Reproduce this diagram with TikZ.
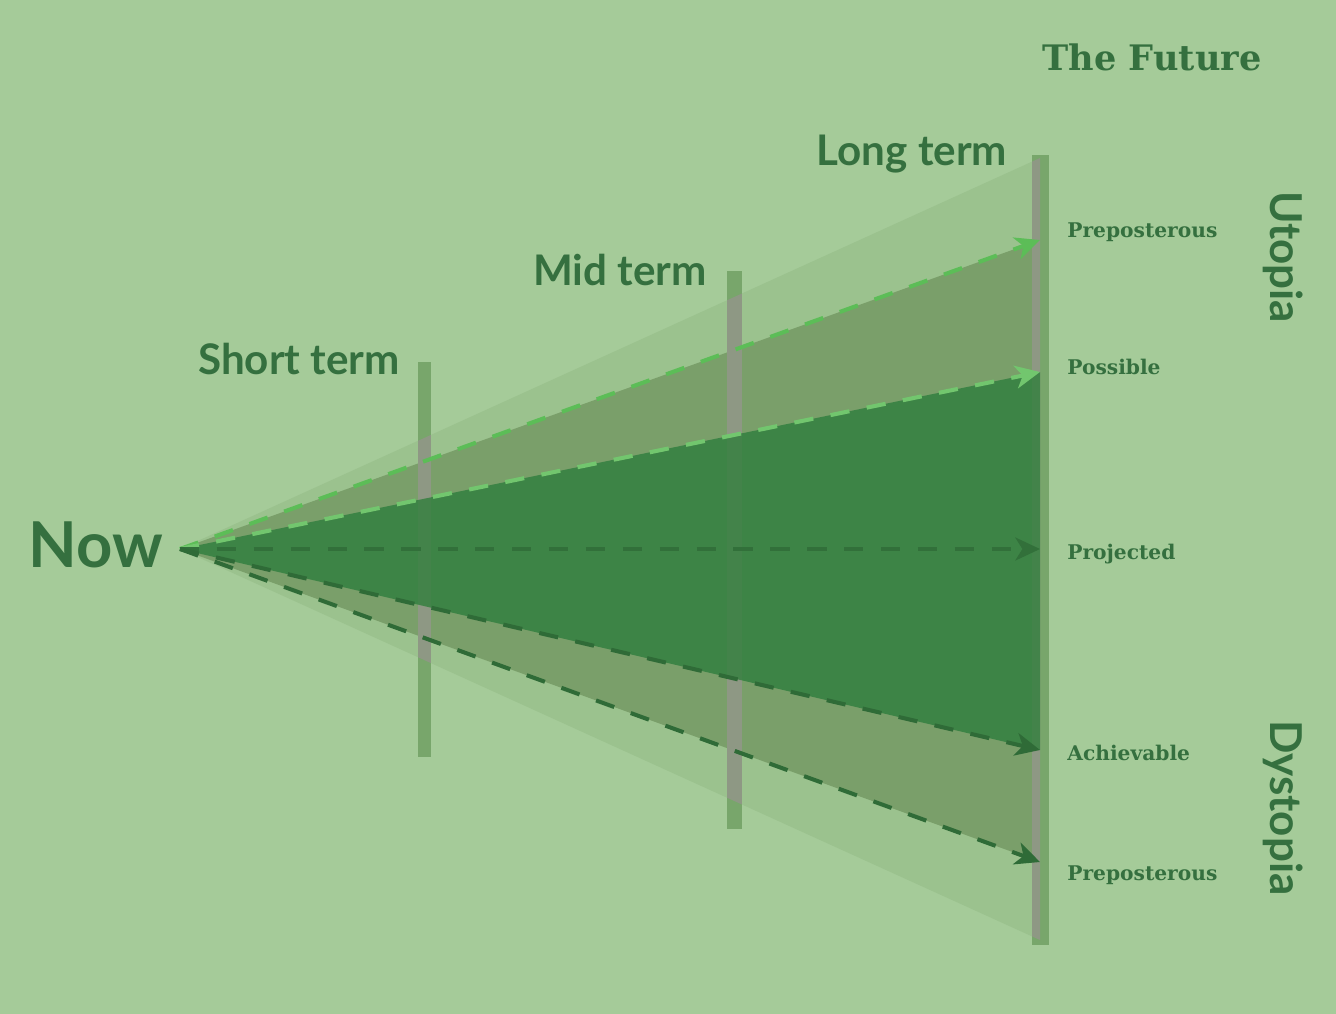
\documentclass[tikz,border=0pt]{standalone}
\usepackage{fontspec}
\setmainfont{DejaVu Serif}
\newfontfamily\termfont{Lato}
\usetikzlibrary{arrows.meta}

\definecolor{bggreen}{HTML}{A5CB99}
\definecolor{outercone}{HTML}{9BC28E}
\definecolor{midcone}{HTML}{7A9F6A}
\definecolor{innercone}{HTML}{3D8446}
\definecolor{bargreen}{HTML}{78A66B}
\definecolor{bargrey}{HTML}{8E9884}
\definecolor{bardark}{HTML}{43834A}
\definecolor{textgreen}{HTML}{35703F}
\definecolor{brightarrow}{HTML}{5CBD57}
\definecolor{palearrow}{HTML}{72C66E}
\definecolor{darkarrow}{HTML}{2F6B37}

\begin{document}
\begin{tikzpicture}[x=0.02cm,y=-0.02cm,
  term/.style={font=\termfont\bfseries\fontsize{24}{24}\selectfont,text=textgreen,anchor=base,inner sep=0pt},
  outcome/.style={font=\bfseries\fontsize{11.5}{12}\selectfont,text=textgreen,anchor=base west,inner sep=0pt},
  side/.style={font=\termfont\bfseries\fontsize{25}{25}\selectfont,text=textgreen,rotate=-90,anchor=base,inner sep=0pt},
  path/.style={line width=2.3pt,dash pattern=on 11pt off 10pt,-{Stealth[length=14pt,width=13pt,inset=4pt]}}]
  \fill[bggreen] (0,0) rectangle (1336,1014);
  \useasboundingbox (0,0) rectangle (1336,1014);

  \coordinate (apex) at (180,549);
  \coordinate (outtop) at (1040,158);
  \coordinate (outbot) at (1040,940);
  \coordinate (utopia) at (1040,240);
  \coordinate (possible) at (1040,372);
  \coordinate (projected) at (1040,549);
  \coordinate (achievable) at (1040,750);
  \coordinate (dystopia) at (1040,862);

  % cones
  \fill[outercone] (apex) -- (outtop) -- (outbot) -- cycle;
  \fill[midcone] (apex) -- (utopia) -- (dystopia) -- cycle;
  \fill[innercone] (apex) -- (possible) -- (achievable) -- cycle;

  % time bars
  \foreach \xa/\xb/\ya/\yb in {418/431/362/757, 727/742/271/829, 1032/1049/155/945}{
    \fill[bargreen] (\xa,\ya) rectangle (\xb,\yb);
    \begin{scope}
      \clip (apex) -- (outtop) -- (outbot) -- cycle;
      \fill[bargrey] (\xa,\ya) rectangle (\xb,\yb);
    \end{scope}
    \begin{scope}
      \clip (apex) -- (possible) -- (achievable) -- cycle;
      \fill[bardark] (\xa,\ya) rectangle (\xb,\yb);
    \end{scope}
  }

  % paths into the future
  \draw[path,brightarrow] (apex) -- (utopia);
  \draw[path,palearrow] (apex) -- (possible);
  \draw[path,darkarrow!80!innercone] (apex) -- (projected);
  \draw[path,darkarrow] (apex) -- (achievable);
  \draw[path,darkarrow] (apex) -- (dystopia);

  \node[term,font=\termfont\bfseries\fontsize{36}{36}\selectfont] (now) at (96,567) {Now};
  \node[term] (short) at (299,374) {Short term};
  \node[term] (mid) at (620,285) {Mid term};
  \node[term] (long) at (912,165) {Long term};
  \node[font=\bfseries\fontsize{20}{20}\selectfont,text=textgreen,anchor=base,inner sep=0pt] (future) at (1152,71) {The Future};

  \node[outcome] (pre1) at (1067,237) {Preposterous};
  \node[outcome] (poss) at (1067,374) {Possible};
  \node[outcome] (proj) at (1067,559) {Projected};
  \node[outcome] (achv) at (1067,760) {Achievable};
  \node[outcome] (pre2) at (1067,880) {Preposterous};

  \node[side] (utop) at (1270,257) {Utopia};
  \node[side] (dyst) at (1270,808) {Dystopia};
\end{tikzpicture}
\end{document}
